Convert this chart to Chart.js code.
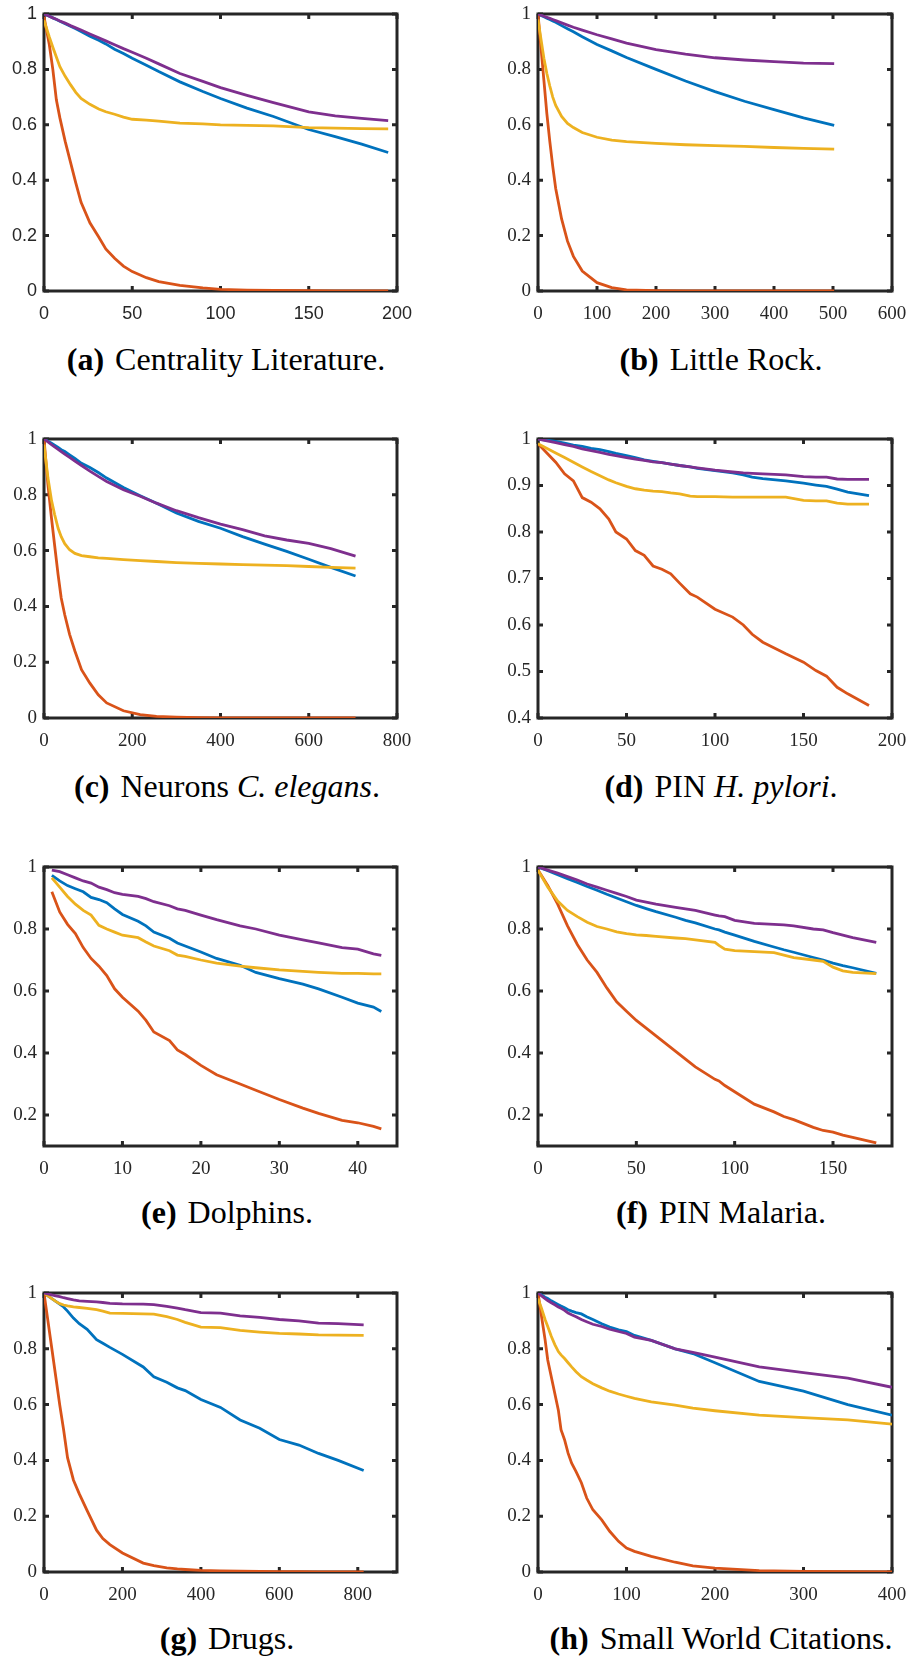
<!doctype html>
<html>
<head>
  <meta charset="utf-8">
  <title>Centrality decay curves</title>
  <script src="https://cdn.jsdelivr.net/npm/chart.js@4.4.1/dist/chart.umd.min.js"></script>
  <style>
    body { margin: 0; background: #fff; width: 909px; height: 1660px; position: relative; overflow: hidden; }
    canvas { position: absolute; }
    .cap { position: absolute; transform: translateX(-50%); white-space: nowrap;
           font-family: 'Liberation Serif', serif; font-size: 32px; line-height: 32px; color: #000; }
    .cap b { margin-right: 11px; }
  </style>
</head>
<body>

<div class="cap" style="left:226px; top:343px"><b>(a)</b>Centrality Literature.</div>
<div class="cap" style="left:721px; top:343px"><b>(b)</b>Little Rock.</div>
<div class="cap" style="left:227px; top:770px"><b>(c)</b>Neurons <i>C. elegans</i>.</div>
<div class="cap" style="left:721px; top:770px"><b>(d)</b>PIN <i>H. pylori</i>.</div>
<div class="cap" style="left:227px; top:1196px"><b>(e)</b>Dolphins.</div>
<div class="cap" style="left:721px; top:1196px"><b>(f)</b>PIN Malaria.</div>
<div class="cap" style="left:227px; top:1622px"><b>(g)</b>Drugs.</div>
<div class="cap" style="left:721px; top:1622px"><b>(h)</b>Small World Citations.</div>

<script>
// shared y tick sets
var yUnit = [0, 0.2, 0.4, 0.6, 0.8, 1];
var yPylori = [0.4, 0.5, 0.6, 0.7, 0.8, 0.9, 1];
var yTenth = [0.2, 0.4, 0.6, 0.8, 1];

// (a) Centrality Literature
var litX      = [0,3,5,7,9,12,15,18,21,26,31,35,40,45,50,58,65,77,90,100,115,130,150,165,180,195];
var litBlue   = [1,.992,.986,.98,.974,.965,.956,.947,.937,.92,.905,.892,.873,.857,.84,.815,.792,.755,.72,.695,.66,.63,.583,.557,.53,.50];
var litOrange = [.99,.89,.80,.69,.625,.54,.465,.39,.32,.246,.195,.152,.118,.09,.07,.048,.034,.02,.011,.006,.003,.002,.001,0,0,0];
var litYellow = [.977,.917,.88,.845,.81,.775,.745,.717,.695,.674,.657,.647,.638,.628,.62,.617,.613,.606,.603,.60,.598,.596,.59,.588,.586,.585];
var litPurple = [1,.992,.986,.981,.975,.967,.958,.95,.942,.928,.914,.903,.889,.875,.862,.84,.82,.785,.757,.734,.706,.68,.647,.632,.623,.615];
var litTicks  = [0, 50, 100, 150, 200];

// (b) Little Rock
var rockX      = [0,5,10,15,20,25,30,40,50,60,75,100,125,150,200,250,300,350,400,450,502];
var rockBlue   = [1,.995,.99,.985,.98,.975,.97,.958,.947,.936,.918,.89,.867,.843,.80,.758,.72,.685,.655,.625,.598];
var rockOrange = [1,.88,.76,.64,.54,.45,.37,.26,.18,.125,.072,.03,.012,.004,.001,0,0,0,0,0,0];
var rockYellow = [.98,.91,.84,.785,.74,.70,.67,.63,.605,.59,.572,.555,.545,.539,.533,.528,.525,.522,.518,.515,.512];
var rockPurple = [1,.996,.992,.988,.984,.98,.976,.968,.96,.952,.942,.925,.91,.895,.871,.855,.842,.834,.828,.823,.821];
var rockTicks  = [0, 100, 200, 300, 400, 500, 600];

// (c) Neurons C. elegans
var neurX      = [0,9,17,24,32,39,47,58,70,85,104,123,142,180,218,255,300,350,400,450,500,550,600,650,706];
var neurBlue   = [1,.992,.985,.978,.97,.962,.955,.943,.93,.913,.898,.88,.86,.826,.797,.77,.735,.705,.68,.65,.623,.597,.569,.54,.509];
var neurOrange = [1,.835,.716,.62,.513,.43,.37,.30,.24,.173,.125,.083,.054,.026,.012,.006,.003,.001,0,0,0,0,0,0,0];
var neurYellow = [.98,.86,.78,.73,.68,.65,.625,.603,.59,.582,.578,.574,.572,.568,.564,.561,.557,.554,.552,.55,.548,.546,.543,.54,.537];
var neurPurple = [1,.99,.98,.972,.963,.955,.946,.934,.921,.905,.885,.866,.848,.818,.795,.77,.743,.718,.695,.675,.653,.638,.626,.607,.58];
var neurTicks  = [0, 200, 400, 600, 800];

// (d) PIN H. pylori
var pyloriX      = [0,10,15,20,25,30,35,40,44,50,55,60,65,70,75,80,86,90,100,110,116,121,127,140,150,157,163,169,175,187];
var pyloriBlue   = [1,.995,.991,.987,.984,.98,.977,.973,.969,.964,.96,.955,.952,.949,.946,.943,.94,.937,.932,.927,.923,.918,.915,.91,.905,.901,.898,.892,.886,.878];
var pyloriOrange = [.99,.95,.925,.91,.874,.864,.85,.828,.80,.785,.76,.75,.727,.72,.71,.69,.667,.66,.634,.617,.60,.58,.563,.538,.52,.502,.49,.466,.452,.427];
var pyloriYellow = [.99,.97,.96,.95,.94,.93,.921,.912,.906,.898,.893,.89,.888,.887,.884,.882,.877,.876,.876,.875,.875,.875,.875,.875,.868,.867,.867,.862,.86,.86];
var pyloriPurple = [1,.992,.988,.984,.979,.975,.971,.967,.964,.96,.957,.954,.951,.949,.946,.943,.94,.938,.933,.929,.927,.926,.925,.923,.919,.918,.918,.914,.913,.913];
var pyloriTicks  = [0, 50, 100, 150, 200];

// (e) Dolphins
var dolphX      = [1,2,3,4,5,6,7,8,9,10,12,13,14,16,17,18,20,22,25,27,30,33,35,38,40,42,43];
var dolphBlue   = [.973,.955,.94,.93,.92,.902,.895,.885,.865,.847,.825,.81,.79,.77,.755,.745,.726,.705,.683,.66,.64,.622,.607,.58,.561,.548,.534];
var dolphOrange = [.92,.855,.815,.785,.74,.705,.68,.65,.607,.58,.535,.505,.468,.44,.41,.395,.36,.33,.30,.28,.25,.222,.205,.183,.175,.163,.155];
var dolphYellow = [.965,.935,.905,.88,.86,.845,.812,.80,.79,.78,.772,.758,.745,.73,.716,.712,.70,.69,.68,.675,.668,.663,.66,.657,.657,.655,.655];
var dolphPurple = [.99,.985,.975,.965,.955,.948,.935,.927,.917,.912,.905,.898,.888,.875,.865,.86,.845,.83,.81,.80,.78,.765,.755,.74,.735,.72,.715];
var dolphTicks  = [0, 10, 20, 30, 40];

// (f) PIN Malaria
var malariaX      = [0,5,10,15,20,25,30,35,40,45,50,55,60,70,75,80,90,92,95,100,110,120,125,130,140,145,150,155,160,172];
var malariaBlue   = [1,.988,.975,.962,.95,.937,.925,.912,.90,.888,.876,.866,.856,.838,.828,.82,.80,.797,.79,.78,.76,.742,.733,.725,.708,.70,.69,.682,.675,.657];
var malariaOrange = [.99,.94,.88,.81,.75,.70,.66,.61,.565,.535,.505,.48,.455,.405,.38,.355,.315,.31,.295,.275,.235,.21,.195,.185,.16,.15,.145,.135,.128,.11];
var malariaYellow = [.99,.935,.89,.86,.84,.822,.808,.80,.791,.785,.781,.779,.776,.771,.769,.765,.757,.747,.735,.73,.727,.724,.716,.708,.70,.696,.677,.665,.66,.656];
var malariaPurple = [1,.99,.98,.969,.958,.945,.935,.925,.915,.905,.893,.887,.88,.87,.865,.86,.845,.842,.84,.828,.818,.815,.813,.81,.80,.797,.788,.78,.772,.757];
var malariaTicks  = [0, 50, 100, 150];

// (g) Drugs
var drugsX      = [0,10,20,30,40,50,60,75,90,110,134,150,168,200,253,280,313,340,360,400,450,500,550,600,650,700,750,815];
var drugsBlue   = [1,.99,.98,.97,.96,.95,.935,.91,.89,.87,.833,.82,.805,.78,.735,.70,.68,.66,.65,.618,.59,.545,.515,.475,.455,.425,.40,.364];
var drugsOrange = [1,.90,.80,.70,.60,.51,.41,.33,.28,.22,.15,.12,.098,.068,.032,.023,.015,.011,.009,.006,.004,.003,.002,.001,.001,0,0,0];
var drugsYellow = [1,.99,.98,.97,.962,.957,.954,.95,.948,.945,.94,.935,.928,.927,.925,.924,.915,.905,.895,.878,.876,.866,.86,.855,.853,.85,.849,.848];
var drugsPurple = [1,.997,.993,.99,.987,.983,.98,.975,.972,.97,.968,.966,.963,.961,.96,.958,.952,.946,.94,.93,.928,.918,.913,.905,.90,.892,.89,.886];
var drugsTicks  = [0, 200, 400, 600, 800];

// (h) Small World Citations
var swcX      = [0,4,8,11,15,19,23,26,30,34,38,43,49,55,62,72,81,91,100,109,128,155,175,200,250,300,350,400];
var swcBlue   = [1,.993,.985,.98,.972,.965,.958,.953,.947,.94,.935,.93,.925,.915,.905,.89,.878,.868,.862,.848,.83,.80,.783,.75,.683,.648,.60,.562];
var swcOrange = [1,.916,.833,.76,.70,.64,.58,.51,.474,.426,.39,.36,.32,.265,.223,.187,.146,.11,.086,.074,.056,.035,.022,.014,.005,.002,.001,0];
var swcYellow = [.98,.945,.905,.88,.845,.815,.79,.778,.765,.75,.735,.718,.70,.688,.675,.66,.648,.638,.63,.622,.61,.598,.587,.578,.562,.553,.545,.53];
var swcPurple = [1,.99,.98,.973,.965,.958,.95,.945,.938,.928,.922,.915,.905,.897,.888,.88,.87,.862,.855,.842,.83,.80,.787,.77,.735,.715,.695,.662];
var swcTicks  = [0, 100, 200, 300, 400];

var colors = { blue: '#0072BD', orange: '#D95319', yellow: '#EDB120', purple: '#7E2F8E' };

// plot-area rows (top, bottom) and columns (canvas left, width, right padding)
var rows = [[14, 291], [439, 718], [867, 1146], [1293, 1572]];
var cols = [[0, 420, 23], [494, 415, 17]];

var panels = [
  { x: litX, s: [litBlue, litOrange, litYellow, litPurple], xMax: 200, xt: litTicks, yMin: 0, yMax: 1, yt: yUnit, row: 0, col: 0, sans: true },
  { x: rockX, s: [rockBlue, rockOrange, rockYellow, rockPurple], xMax: 600, xt: rockTicks, yMin: 0, yMax: 1, yt: yUnit, row: 0, col: 1 },
  { x: neurX, s: [neurBlue, neurOrange, neurYellow, neurPurple], xMax: 800, xt: neurTicks, yMin: 0, yMax: 1, yt: yUnit, row: 1, col: 0 },
  { x: pyloriX, s: [pyloriBlue, pyloriOrange, pyloriYellow, pyloriPurple], xMax: 200, xt: pyloriTicks, yMin: 0.4, yMax: 1, yt: yPylori, row: 1, col: 1 },
  { x: dolphX, s: [dolphBlue, dolphOrange, dolphYellow, dolphPurple], xMax: 45, xt: dolphTicks, yMin: 0.1, yMax: 1, yt: yTenth, row: 2, col: 0 },
  { x: malariaX, s: [malariaBlue, malariaOrange, malariaYellow, malariaPurple], xMax: 180, xt: malariaTicks, yMin: 0.1, yMax: 1, yt: yTenth, row: 2, col: 1 },
  { x: drugsX, s: [drugsBlue, drugsOrange, drugsYellow, drugsPurple], xMax: 900, xt: drugsTicks, yMin: 0, yMax: 1, yt: yUnit, row: 3, col: 0 },
  { x: swcX, s: [swcBlue, swcOrange, swcYellow, swcPurple], xMax: 400, xt: swcTicks, yMin: 0, yMax: 1, yt: yUnit, row: 3, col: 1 }
];

// box around the axes with inward tick marks, drawn under the curves
var framePlugin = {
  id: 'frame',
  beforeDatasetsDraw: function(chart) {
    var ctx = chart.ctx, a = chart.chartArea, sx = chart.scales.x, sy = chart.scales.y;
    ctx.save();
    ctx.strokeStyle = '#262626';
    ctx.lineWidth = 3;
    ctx.strokeRect(a.left, a.top, a.right - a.left, a.bottom - a.top);
    ctx.beginPath();
    sx.ticks.forEach(function(t) {
      var px = sx.getPixelForValue(t.value);
      ctx.moveTo(px, a.bottom); ctx.lineTo(px, a.bottom - 5);
      ctx.moveTo(px, a.top); ctx.lineTo(px, a.top + 5);
    });
    sy.ticks.forEach(function(t) {
      var py = sy.getPixelForValue(t.value);
      ctx.moveTo(a.left, py); ctx.lineTo(a.left + 5, py);
      ctx.moveTo(a.right, py); ctx.lineTo(a.right - 5, py);
    });
    ctx.stroke();
    ctx.restore();
  }
};

function toPoints(xs, ys) {
  return xs.map(function(v, i) { return { x: v, y: ys[i] }; });
}

panels.forEach(function(p) {
  var r = rows[p.row], c = cols[p.col];
  var cv = document.createElement('canvas');
  cv.width = c[1];
  cv.height = (r[1] - r[0]) + 12 + 44;
  cv.style.left = c[0] + 'px';
  cv.style.top = (r[0] - 12) + 'px';
  document.body.appendChild(cv);

  var font = p.sans ? { family: "'Liberation Sans', sans-serif", size: 18 }
                    : { family: "'Liberation Serif', serif", size: 19 };
  var names = ['blue', 'orange', 'yellow', 'purple'];
  // purple first so it is painted on top
  var order = [3, 2, 1, 0];
  var datasets = order.map(function(k) {
    return { data: toPoints(p.x, p.s[k]), borderColor: colors[names[k]], borderWidth: 2.8,
             pointRadius: 0, tension: 0, fill: false };
  });

  new Chart(cv.getContext('2d'), {
    type: 'line',
    data: { datasets: datasets },
    options: {
      responsive: false,
      animation: false,
      devicePixelRatio: 1,
      layout: { padding: { top: 12, right: c[2], left: 0, bottom: 0 } },
      plugins: { legend: { display: false }, tooltip: { enabled: false } },
      scales: {
        x: {
          type: 'linear', min: 0, max: p.xMax,
          grid: { display: false, drawTicks: false }, border: { display: false },
          afterBuildTicks: function(s) { s.ticks = p.xt.map(function(v) { return { value: v }; }); },
          afterFit: function(s) { s.height = 44; s.paddingLeft = 0; s.paddingRight = 0; },
          ticks: { font: font, color: '#262626', padding: 12, maxRotation: 0, autoSkip: false,
                   callback: function(v) { return String(v); } }
        },
        y: {
          type: 'linear', min: p.yMin, max: p.yMax,
          grid: { display: false, drawTicks: false }, border: { display: false },
          afterBuildTicks: function(s) { s.ticks = p.yt.map(function(v) { return { value: v }; }); },
          afterFit: function(s) { s.width = 44; s.paddingTop = 0; s.paddingBottom = 0; },
          ticks: { font: font, color: '#262626', padding: 7, autoSkip: false,
                   callback: function(v) { return String(v); } }
        }
      }
    },
    plugins: [framePlugin]
  });
});
</script>
</body>
</html>
